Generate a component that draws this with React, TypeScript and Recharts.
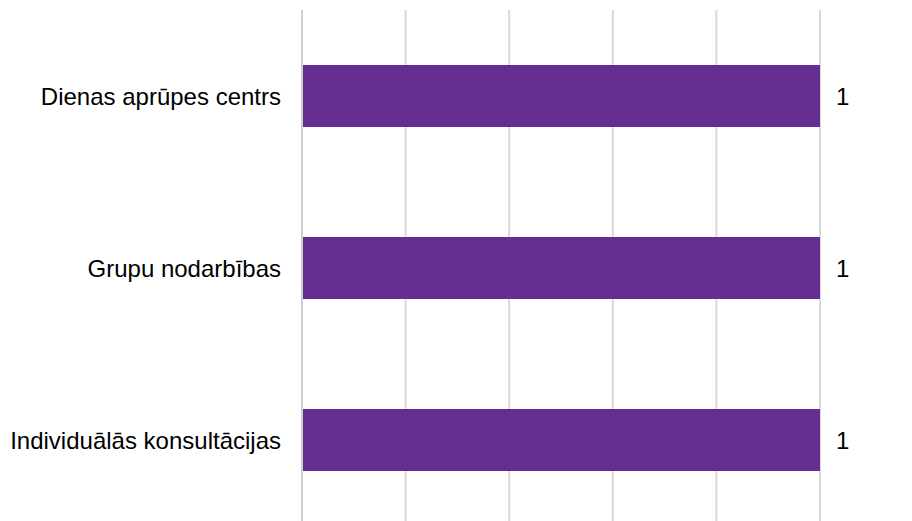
import React from 'react';
import { BarChart, Bar, XAxis, YAxis, CartesianGrid, LabelList } from 'recharts';

const categories = ['Dienas aprūpes centrs', 'Grupu nodarbības', 'Individuālās konsultācijas'];
const values = [1, 1, 1];
const xTicks = [0, 0.2, 0.4, 0.6, 0.8, 1];

const data = categories.map((name, i) => ({ name, value: values[i] }));

const font = 'Liberation Sans, Arial, sans-serif';

export default function App() {
  return (
    <div style={{ position: 'absolute', left: 0, top: 0 }}>
      <BarChart
        width={912}
        height={540}
        data={data}
        layout="vertical"
        margin={{ top: 10, right: 92, bottom: 14, left: 0 }}
        barSize={62}
      >
        <CartesianGrid horizontal={false} stroke="#d9d9d9" strokeWidth={2} />
        <XAxis type="number" domain={[0, 1]} ticks={xTicks} hide />
        <YAxis
          type="category"
          dataKey="name"
          width={302}
          axisLine={{ stroke: '#cfcfcf', strokeWidth: 2 }}
          tickLine={false}
          tickSize={0}
          tickMargin={21}
          tick={{ fill: '#000', fontSize: 24, fontFamily: font }}
        />
        <Bar dataKey="value" fill="#662d91" isAnimationActive={false}>
          <LabelList
            dataKey="value"
            position="right"
            offset={16}
            style={{ fill: '#000', fontSize: 24, fontFamily: font }}
          />
        </Bar>
      </BarChart>
    </div>
  );
}
